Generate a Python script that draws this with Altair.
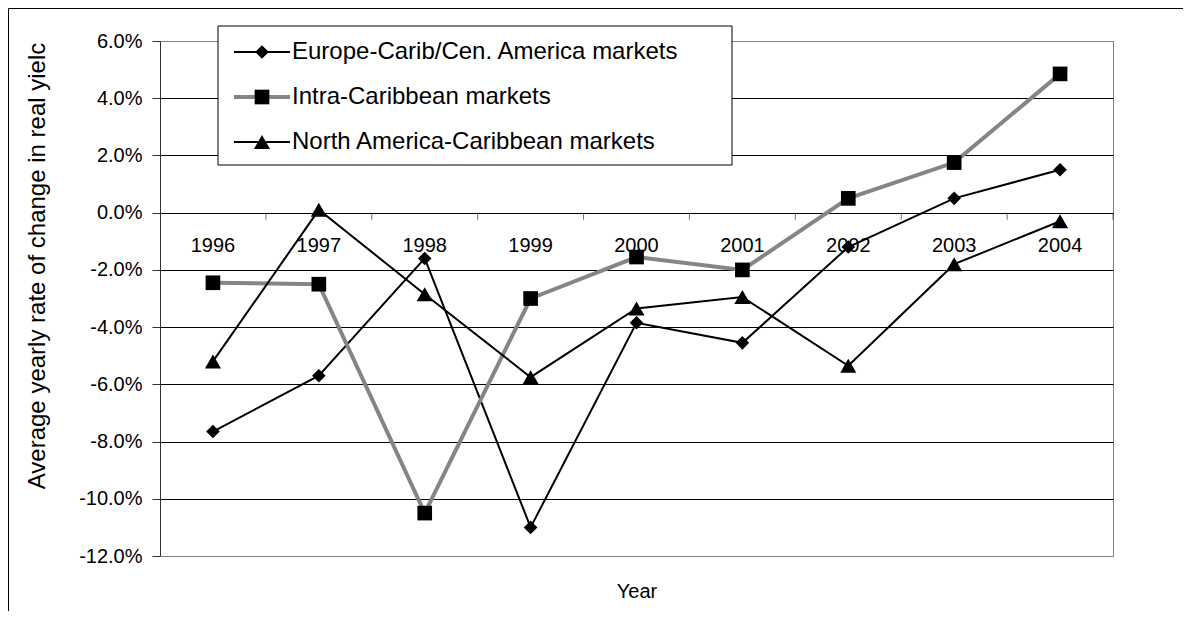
import altair as alt
import pandas as pd

years = [1996, 1997, 1998, 1999, 2000, 2001, 2002, 2003, 2004]
series_names = [
    "Europe-Carib/Cen. America markets",
    "Intra-Caribbean markets",
    "North America-Caribbean markets",
]
europe = [-7.65, -5.7, -1.6, -11.0, -3.85, -4.55, -1.2, 0.5, 1.5]
intra = [-2.45, -2.5, -10.5, -3.0, -1.55, -2.0, 0.5, 1.75, 4.85]
north = [-5.2, 0.1, -2.85, -5.75, -3.35, -2.95, -5.35, -1.8, -0.3]
y_ticks = [-12, -10, -8, -6, -4, -2, 0, 2, 4, 6]
y_title = "Average yearly rate of change in real yielc"
x_title = "Year"

line_colors = ["#000000", "#858585", "#000000"]
line_widths = [2, 4, 2]
shapes = ["diamond", "square", "triangle-up"]
marker_sizes = [185, 215, 260]

FONT = "Liberation Sans"
FS_TICK = 20
FS_TITLE = 20
FS_YTITLE = 24
FS_LEG = 24
W, H = 953, 515
PAD_L, PAD_T, PAD_R, PAD_B = 152, 33, 70, 55
X0, Y0 = 160, 41  # page position of the plot area

rows = []
for name, vals in zip(series_names, [europe, intra, north]):
    for yr, v in zip(years, vals):
        rows.append({"year": yr, "series": name, "value": v})
df = pd.DataFrame(rows)

xscale = alt.Scale(domain=[years[0] - 0.5, years[-1] + 0.5], nice=False, zero=False)
yscale = alt.Scale(domain=[y_ticks[0], y_ticks[-1]], nice=False, zero=False)

x_enc = alt.X("year:Q", scale=xscale,
              axis=alt.Axis(title=x_title, labels=False, ticks=False, domain=False, grid=False,
                            titleFont=FONT, titleFontSize=FS_TITLE, titleFontWeight="normal",
                            titleColor="black", titlePadding=25))
y_enc = alt.Y("value:Q", scale=yscale,
              axis=alt.Axis(values=y_ticks, title=None,
                            labelExpr="(datum.value < 0 ? '-' : '') + format(abs(datum.value), '.1f') + '%'",
                            labelFont=FONT, labelFontSize=FS_TICK, labelColor="black", labelPadding=10,
                            tickSize=8, tickColor="#333333", domainColor="#333333",
                            grid=True,
                            gridColor=alt.condition("datum.value == 6 || datum.value == -12",
                                                    alt.value("#808080"), alt.value("#000000")),
                            gridWidth=1))

series_layers = []
for i, name in enumerate(series_names):
    src = alt.Chart(df).transform_filter(alt.datum.series == name)
    enc_x = x_enc if i == 0 else alt.X("year:Q", scale=xscale)
    enc_y = y_enc if i == 0 else alt.Y("value:Q", scale=yscale)
    series_layers.append(src.mark_line(color=line_colors[i], strokeWidth=line_widths[i]).encode(
        x=enc_x, y=enc_y))
    series_layers.append(src.mark_point(filled=True, color="black", opacity=1, shape=shapes[i],
                                        size=marker_sizes[i]).encode(
        x=alt.X("year:Q", scale=xscale), y=alt.Y("value:Q", scale=yscale)))

year_df = pd.DataFrame({"year": years, "label": [str(y) for y in years], "bound": [y + 0.5 for y in years]})
xlabels = alt.Chart(year_df).mark_text(font=FONT, fontSize=FS_TICK, color="black", dy=33, baseline="middle").encode(
    x="year:Q", y=alt.datum(0), text="label:N")
xticks = alt.Chart(year_df).mark_tick(orient="vertical", size=7, thickness=1, color="#333333", yOffset=3.5).encode(
    x="bound:Q", y=alt.datum(0))

one = pd.DataFrame({"t": [y_title]})
ytitle = alt.Chart(one).mark_text(font=FONT, fontSize=FS_YTITLE, color="black", angle=270,
                                  align="center", baseline="middle").encode(
    x=alt.value(38 - X0), y=alt.value(266 - Y0), text="t:N")

# outer frame
frame_top = alt.Chart(one).mark_rule(color="black", strokeWidth=1).encode(
    x=alt.value(-PAD_L + 0.5), x2=alt.value(W + PAD_R), y=alt.value(-PAD_T + 0.5))
frame_left = alt.Chart(one).mark_rule(color="black", strokeWidth=1).encode(
    x=alt.value(-PAD_L + 0.5), y=alt.value(-PAD_T + 0.5), y2=alt.value(H + PAD_B))

# legend box
leg_df = pd.DataFrame({"series": series_names})
LEG_L, LEG_R, LEG_T, LEG_B = 218, 732, 26, 165
leg_box = alt.Chart(one).mark_rect(fill="white", stroke="black", strokeWidth=1).encode(
    x=alt.value(LEG_L - X0), x2=alt.value(LEG_R - X0), y=alt.value(LEG_T - Y0), y2=alt.value(LEG_B - Y0))
legend_layers = [leg_box]
entry_y = [52, 97, 142]
for i, name in enumerate(series_names):
    src = alt.Chart(leg_df).transform_filter(alt.datum.series == name)
    legend_layers.append(src.mark_rule(color=line_colors[i], strokeWidth=line_widths[i]).encode(
        x=alt.value(234 - X0), x2=alt.value(290 - X0), y=alt.value(entry_y[i] - Y0)))
    legend_layers.append(src.mark_point(filled=True, color="black", opacity=1, shape=shapes[i],
                                        size=marker_sizes[i]).encode(
        x=alt.value(262 - X0), y=alt.value(entry_y[i] - Y0)))
    legend_layers.append(src.mark_text(font=FONT, fontSize=FS_LEG, color="black", align="left",
                                       baseline="middle").encode(
        x=alt.value(292 - X0), y=alt.value(entry_y[i] - Y0), text="series:N"))

chart = alt.layer(
    *series_layers, xticks, xlabels, ytitle, frame_top, frame_left, *legend_layers
).properties(
    width=W, height=H,
    autosize=alt.AutoSizeParams(type="none"),
    padding={"left": PAD_L, "top": PAD_T, "right": PAD_R, "bottom": PAD_B},
    background="white",
).configure_view(stroke="#808080", strokeWidth=1)

chart.save("out.html", embed_options={"renderer": "svg", "actions": False})
